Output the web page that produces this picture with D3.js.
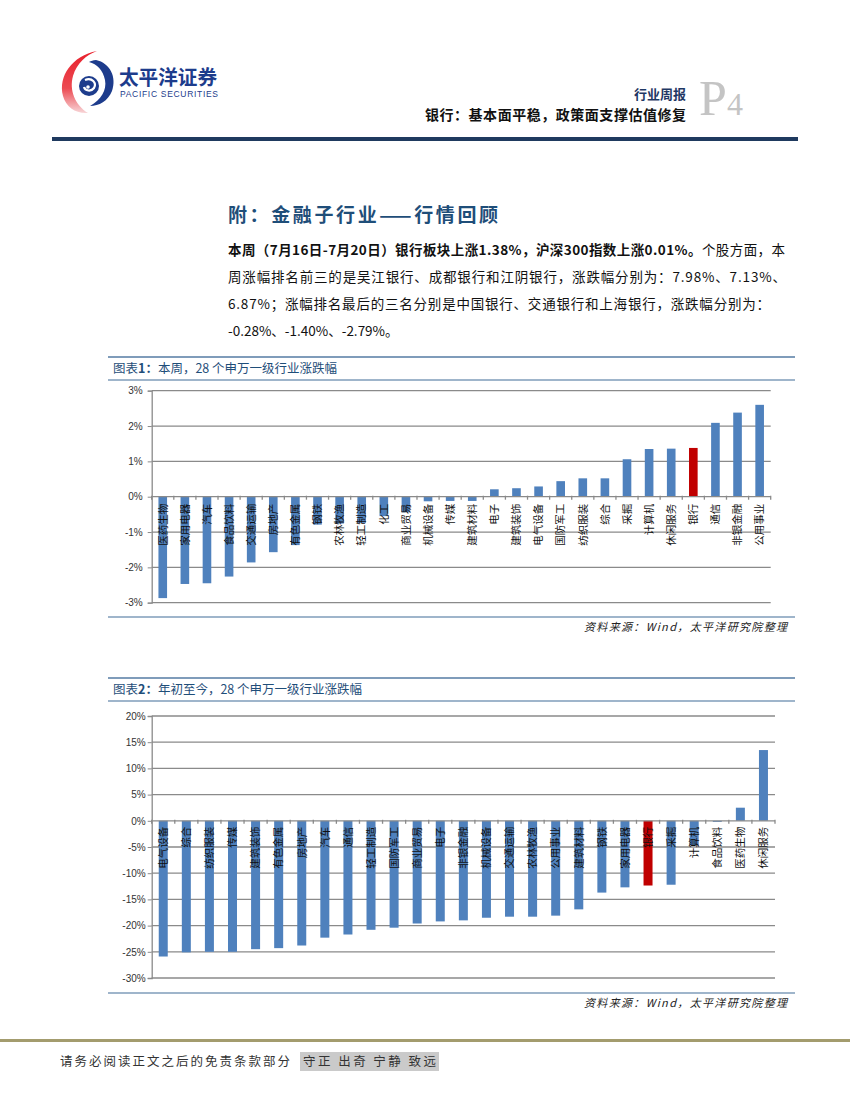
<!DOCTYPE html>
<html>
<head>
<meta charset="utf-8">
<script src="https://cdn.jsdelivr.net/npm/d3@7"></script>
<style>
  body { margin: 0; background: #fff; }
  svg { display: block; }
</style>
</head>
<body>
<div id="page"></div>
<script>
// ---- data ----
const weekLabels = ["医药生物", "家用电器", "汽车", "食品饮料", "交通运输", "房地产", "有色金属", "钢铁",
  "农林牧渔", "轻工制造", "化工", "商业贸易", "机械设备", "传媒", "建筑材料", "电子", "建筑装饰",
  "电气设备", "国防军工", "纺织服装", "综合", "采掘", "计算机", "休闲服务", "银行", "通信", "非银金融", "公用事业"];
const weekValues = [-2.87, -2.47, -2.45, -2.26, -1.86, -1.57, -1.37, -0.79,
  -0.76, -0.74, -0.55, -0.44, -0.13, -0.12, -0.12, 0.21, 0.24,
  0.29, 0.44, 0.52, 0.52, 1.06, 1.35, 1.36, 1.38, 2.09, 2.38, 2.60];
const weekTicks = [3, 2, 1, 0, -1, -2, -3];

const ytdLabels = ["电气设备", "综合", "纺织服装", "传媒", "建筑装饰", "有色金属", "房地产", "汽车",
  "通信", "轻工制造", "国防军工", "商业贸易", "电子", "非银金融", "机械设备", "交通运输", "农林牧渔",
  "公用事业", "建筑材料", "钢铁", "家用电器", "银行", "采掘", "计算机", "食品饮料", "医药生物", "休闲服务"];
const ytdValues = [-25.9, -25.1, -25.0, -25.0, -24.5, -24.3, -23.8, -22.3,
  -21.7, -20.8, -20.4, -19.6, -19.2, -19.0, -18.5, -18.3, -18.3,
  -18.1, -16.9, -13.7, -12.7, -12.35, -12.2, -4.7, -0.2, 2.5, 13.5];
const ytdTicks = [20, 15, 10, 5, 0, -5, -10, -15, -20, -25, -30];

const highlight = "银行";

// ---- page ----
const W = 850, H = 1100;
const cjk = "'Noto Sans CJK SC', sans-serif";
const navy = "#1f3864";

const svg = d3.select("#page").append("svg")
  .attr("width", W)
  .attr("height", H)
  .attr("viewBox", `0 0 ${W} ${H}`);

// logo
const defs = svg.append("defs");
const grad = defs.append("linearGradient").attr("id", "redfade")
  .attr("x1", 0).attr("y1", 0).attr("x2", 0).attr("y2", 1);
grad.append("stop").attr("offset", "0%").attr("stop-color", "#e8202c");
grad.append("stop").attr("offset", "60%").attr("stop-color", "#ec4a52");
grad.append("stop").attr("offset", "100%").attr("stop-color", "#f8d6d8");

const logo = svg.append("g");
logo.append("path")
  .attr("d", "M97,51 C72,56 58,76 63,96 C66,107 76,114 88,113 C75,105 69,90 73,76 C77,63 86,55 97,51 Z")
  .attr("fill", "url(#redfade)");
logo.append("path")
  .attr("d", "M96,60 C110,63 117,77 112,91 C108,101 99,106 90,106 C101,100 107,90 105,80 C103,70 97,64 89,62 C91,61 93,60 96,60 Z")
  .attr("fill", "#1d3c8c");
logo.append("circle").attr("cx", 89).attr("cy", 86).attr("r", 10).attr("fill", "#1d3c8c");
logo.append("path")
  .attr("d", "M85,80 C92,77 97,83 94,88 C91,92 85,91 84,87")
  .attr("fill", "none").attr("stroke", "#fff").attr("stroke-width", 2.2);
logo.append("circle").attr("cx", 88).attr("cy", 87).attr("r", 1.8).attr("fill", "#fff");

svg.append("text")
  .attr("x", 119).attr("y", 85)
  .attr("font-family", cjk).attr("font-weight", 700).attr("font-size", 20)
  .attr("fill", "#1d3c8c")
  .attr("textLength", 98).attr("lengthAdjust", "spacingAndGlyphs")
  .text("太平洋证券");
svg.append("text")
  .attr("x", 120).attr("y", 97)
  .attr("font-family", "'Liberation Sans', sans-serif").attr("font-size", 8.5)
  .attr("fill", "#1d3c8c")
  .attr("textLength", 98).attr("lengthAdjust", "spacing")
  .text("PACIFIC SECURITIES");

// header right
svg.append("text")
  .attr("x", 686).attr("y", 99)
  .attr("text-anchor", "end")
  .attr("font-family", cjk).attr("font-weight", 700).attr("font-size", 13)
  .attr("fill", navy)
  .text("行业周报");
svg.append("text")
  .attr("x", 686).attr("y", 120)
  .attr("text-anchor", "end")
  .attr("font-family", cjk).attr("font-weight", 700).attr("font-size", 14)
  .attr("fill", "#111")
  .attr("textLength", 261).attr("lengthAdjust", "spacing")
  .text("银行：基本面平稳，政策面支撑估值修复");
svg.append("text")
  .attr("x", 699).attr("y", 115)
  .attr("font-family", "'Liberation Serif', serif").attr("font-size", 50)
  .attr("fill", "#c4c4c4")
  .text("P");
svg.append("text")
  .attr("x", 727).attr("y", 115)
  .attr("font-family", "'Liberation Serif', serif").attr("font-size", 32)
  .attr("fill", "#c4c4c4")
  .text("4");

svg.append("rect")
  .attr("x", 52).attr("y", 137).attr("width", 746).attr("height", 4)
  .attr("fill", "#1f3a5f");

// section title + paragraph
svg.append("text")
  .attr("x", 228).attr("y", 222)
  .attr("font-family", cjk).attr("font-weight", 700).attr("font-size", 19)
  .attr("fill", "#1f4e79")
  .attr("textLength", 270).attr("lengthAdjust", "spacing")
  .text("附：金融子行业——行情回顾");

const paraLines = [
  { bold: "本周（7月16日-7月20日）银行板块上涨1.38%，沪深300指数上涨0.01%。", normal: "个股方面，本", y: 255, len: 557 },
  { bold: "", normal: "周涨幅排名前三的是吴江银行、成都银行和江阴银行，涨跌幅分别为：7.98%、7.13%、", y: 282, len: 558 },
  { bold: "", normal: "6.87%；涨幅排名最后的三名分别是中国银行、交通银行和上海银行，涨跌幅分别为：", y: 309, len: 542 },
  { bold: "", normal: "-0.28%、-1.40%、-2.79%。", y: 336, len: null }
];
paraLines.forEach(l => {
  const t = svg.append("text")
    .attr("x", 228).attr("y", l.y)
    .attr("font-family", cjk).attr("font-size", 13.5)
    .attr("fill", "#111");
  if (l.len) t.attr("textLength", l.len).attr("lengthAdjust", "spacing");
  if (l.bold) t.append("tspan").attr("font-weight", 700).text(l.bold);
  t.append("tspan").text(l.normal);
});

// ---- chart helpers ----
function titleBox(y, label) {
  svg.append("line").attr("x1", 108).attr("x2", 795).attr("y1", y).attr("y2", y)
    .attr("stroke", "#7f9cba").attr("stroke-width", 2);
  svg.append("line").attr("x1", 108).attr("x2", 795).attr("y1", y + 23).attr("y2", y + 23)
    .attr("stroke", "#7f9cba").attr("stroke-width", 1.5);
  const t = svg.append("text")
    .attr("x", 113).attr("y", y + 16)
    .attr("font-family", cjk).attr("font-size", 12.5)
    .attr("fill", "#1f4e79");
  t.append("tspan").text("图表");
  t.append("tspan").attr("font-weight", 700).text(label.num + "：");
  t.append("tspan").text(label.text);
}

function sourceNote(y) {
  svg.append("line").attr("x1", 108).attr("x2", 795).attr("y1", y).attr("y2", y)
    .attr("stroke", "#7f9cba").attr("stroke-width", 1.5);
  svg.append("text")
    .attr("x", 787).attr("y", y + 14)
    .attr("text-anchor", "end")
    .attr("font-family", cjk).attr("font-size", 11)
    .attr("font-style", "italic")
    .attr("fill", "#222")
    .attr("textLength", 203).attr("lengthAdjust", "spacing")
    .text("资料来源：Wind，太平洋研究院整理");
}

function barChart(cfg) {
  const g = svg.append("g");
  const x = d3.scaleBand()
    .domain(cfg.labels)
    .range([cfg.left, cfg.right])
    .paddingInner(0.61)
    .paddingOuter(0.305);
  const y = d3.scaleLinear()
    .domain(cfg.domain)
    .range([cfg.bottom, cfg.top]);

  // gridlines
  g.selectAll(".grid")
    .data(cfg.ticks.filter(t => t !== 0))
    .join("line")
    .attr("x1", cfg.left).attr("x2", cfg.right)
    .attr("y1", d => y(d)).attr("y2", d => y(d))
    .attr("stroke", "#8a8a8a").attr("stroke-width", 1.3);

  // y axis
  const yAxis = d3.axisLeft(y)
    .tickValues(cfg.ticks)
    .tickFormat(d => d + "%")
    .tickSize(4)
    .tickPadding(cfg.pad);
  const ya = g.append("g")
    .attr("transform", `translate(${cfg.left},0)`)
    .call(yAxis);
  ya.select(".domain").attr("stroke", "#8a8a8a").attr("stroke-width", 1.3);
  ya.selectAll(".tick line").attr("stroke", "#8a8a8a");
  ya.selectAll(".tick text")
    .attr("font-family", "'Liberation Sans', sans-serif")
    .attr("font-size", 10)
    .attr("fill", "#333");

  // bars
  const data = cfg.labels.map((k, i) => ({ k, v: cfg.values[i] }));
  g.selectAll(".bar")
    .data(data)
    .join("rect")
    .attr("x", d => x(d.k))
    .attr("width", x.bandwidth())
    .attr("y", d => Math.min(y(d.v), y(0)))
    .attr("height", d => Math.abs(y(d.v) - y(0)))
    .attr("fill", d => d.k === highlight ? "#c00000" : "#4f81bd");

  // zero axis with category ticks
  g.append("line")
    .attr("x1", cfg.left).attr("x2", cfg.right)
    .attr("y1", y(0)).attr("y2", y(0))
    .attr("stroke", "#8a8a8a").attr("stroke-width", 1.3);
  const step = x.step();
  g.selectAll(".xtick")
    .data(d3.range(cfg.labels.length + 1))
    .join("line")
    .attr("x1", i => cfg.left + i * step).attr("x2", i => cfg.left + i * step)
    .attr("y1", y(0) - 1).attr("y2", y(0) + 3)
    .attr("stroke", "#8a8a8a").attr("stroke-width", 1.3);

  // category labels, rotated
  g.selectAll(".cat")
    .data(data)
    .join("text")
    .attr("transform", d => `translate(${x(d.k) + x.bandwidth() / 2},${y(0) + cfg.labelGap}) rotate(-90)`)
    .attr("text-anchor", "end")
    .attr("dy", "0.36em")
    .attr("font-family", cjk)
    .attr("font-size", 10.5)
    .attr("fill", "#111")
    .text(d => d.k);
}

// chart 1
titleBox(357, { num: "1", text: "本周，28 个申万一级行业涨跌幅" });
barChart({
  labels: weekLabels, values: weekValues, ticks: weekTicks,
  domain: [-3, 3], left: 151.7, right: 770.7, top: 390.7, bottom: 602.7,
  pad: 5, labelGap: 7
});
sourceNote(617);

// chart 2
titleBox(678, { num: "2", text: "年初至今，28 个申万一级行业涨跌幅" });
barChart({
  labels: ytdLabels, values: ytdValues, ticks: ytdTicks,
  domain: [-30, 20], left: 151.7, right: 775, top: 716, bottom: 978,
  pad: 2, labelGap: 6
});
sourceNote(993);

// footer
svg.append("rect")
  .attr("x", 0).attr("y", 1039).attr("width", W).attr("height", 3)
  .attr("fill", "#a39c6e");
svg.append("text")
  .attr("x", 60).attr("y", 1066)
  .attr("font-family", cjk).attr("font-size", 12.5)
  .attr("fill", "#333")
  .attr("textLength", 230).attr("lengthAdjust", "spacing")
  .text("请务必阅读正文之后的免责条款部分");
svg.append("rect")
  .attr("x", 300).attr("y", 1052).attr("width", 139).attr("height", 19)
  .attr("fill", "#cacaca");
svg.append("text")
  .attr("x", 303).attr("y", 1066)
  .attr("font-family", cjk).attr("font-size", 12.5)
  .attr("fill", "#333")
  .attr("xml:space", "preserve")
  .style("white-space", "pre")
  .attr("textLength", 133).attr("lengthAdjust", "spacing")
  .text("守正 出奇 宁静 致远");
</script>
</body>
</html>
